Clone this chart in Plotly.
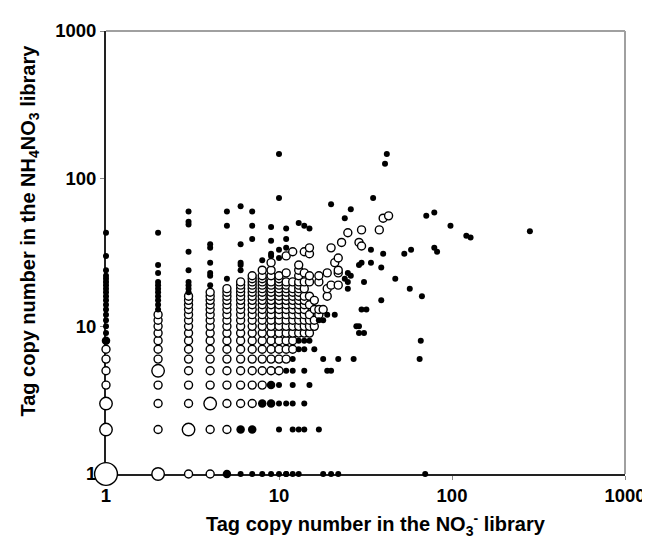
import math
import plotly.graph_objects as go

# ---- Data ----
# Open circles (not significantly different): columns of NO3 count -> NH4NO3 counts
open_cols_x = [1, 2, 3, 4, 5, 6, 7, 8, 9, 10, 11, 12, 13, 14, 15, 16, 17, 18, 19, 20, 21, 22, 23, 25, 29, 30, 38, 40, 43]
open_cols_y = [
    [1, 2, 3, 4, 5, 6, 7],
    [1, 2, 3, 4, 5, 6, 7, 8, 9, 10, 11, 12],
    [1, 2, 3, 4, 5, 6, 7, 8, 9, 10, 11, 12, 13, 14, 15, 16],
    [1, 2, 3, 4, 5, 6, 7, 8, 9, 10, 11, 12, 13, 14, 15, 16, 17],
    [2, 3, 4, 5, 6, 7, 8, 9, 10, 11, 12, 13, 14, 15, 16, 17, 18],
    [3, 4, 5, 6, 7, 8, 9, 10, 11, 12, 13, 14, 15, 16, 17, 18, 19, 20],
    [3, 4, 5, 6, 7, 8, 9, 10, 11, 12, 13, 14, 15, 16, 17, 18, 19, 20, 21, 22],
    [4, 5, 6, 7, 8, 9, 10, 11, 12, 13, 14, 15, 16, 17, 18, 19, 20, 21, 22, 24],
    [5, 6, 7, 8, 9, 10, 11, 12, 13, 14, 15, 16, 17, 18, 19, 20, 22, 24, 27],
    [5, 6, 7, 8, 9, 10, 11, 12, 13, 14, 15, 16, 17, 18, 19, 20, 21, 22],
    [6, 7, 8, 9, 10, 11, 12, 13, 14, 15, 16, 17, 18, 19, 20, 23, 30],
    [7, 8, 9, 10, 11, 12, 13, 14, 15, 16, 17, 18, 20, 32],
    [9, 10, 11, 12, 13, 14, 15, 16, 17, 18, 19, 20, 22, 24, 26],
    [9, 10, 11, 12, 13, 14, 15, 16, 18, 20, 23, 32],
    [9, 10, 11, 12, 14, 16, 20, 22, 31, 34],
    [10, 11, 13, 15],
    [12, 13, 20, 22],
    [13],
    [16, 18, 23],
    [19, 34],
    [27],
    [19, 23, 24, 29],
    [37],
    [43],
    [37],
    [35, 45],
    [45],
    [54],
    [56],
]
# points where several tags overlap (drawn larger): (x, y, tags)
open_multi = [(1, 1, 12), (1, 2, 2), (1, 3, 2), (2, 1, 2), (2, 5, 2), (3, 2, 2), (4, 3, 2)]

# Filled circles (significantly different)
filled_x = [1]*18 + [2]*11 + [3]*9 + [4]*6 + [5, 5, 5, 5] + [6]*7 + [7]*5 + \
    [8, 8, 8] + [9]*7 + [10]*8 + [11]*7 + [12]*6 + [13]*5 + [14]*6 + \
    [15, 15, 15, 16, 17, 17, 18, 18, 18, 19, 19, 20, 20, 20, 21, 22, 22, 24, 24,
     25, 25, 25, 26, 26, 27, 28, 29, 29, 29, 30, 30, 31, 31, 32, 34, 34, 35, 39, 39, 40, 41, 42, 47, 53, 57, 58, 65, 66, 67,
     70, 71, 79, 79, 82, 98, 121, 128, 282]
filled_y = [8, 9, 10, 11, 12, 13, 14, 15, 16, 17, 18, 19, 20, 21, 22, 24, 30, 43] + \
    [13, 14, 15, 16, 17, 18, 19, 20, 23, 26, 43] + \
    [17, 18, 19, 20, 24, 32, 49, 51, 60] + \
    [19, 22, 23, 27, 34, 36] + [1, 21, 48, 60] + \
    [1, 2, 24, 26, 27, 36, 65] + [1, 2, 39, 48, 60] + \
    [1, 3, 28] + [1, 3, 4, 30, 31, 38, 47] + [1, 2, 3, 4, 29, 33, 74, 147] + \
    [1, 3, 5, 34, 39, 46, 1] + [1, 2, 3, 4, 5, 6] + [1, 2, 7, 8, 50] + [2, 3, 5, 7, 8, 48] + \
    [4, 8, 46, 7, 2, 11, 6, 11, 1, 5, 12, 5, 67, 1, 12, 6, 1, 21, 54,
     18, 20, 23, 22, 62, 6, 10, 10, 9, 26, 13, 27, 20, 9, 13, 27, 33, 74, 25, 15, 31, 126, 147, 21, 31, 18, 33, 6, 8, 16,
     1, 56, 59, 34, 32, 48, 41, 40, 44]
filled_multi = [(5, 1, 2), (6, 2, 2), (7, 2, 2), (8, 3, 2), (9, 3, 2), (9, 4, 2), (1, 8, 2)]

tick_vals = [1, 10, 100, 1000]
tick_text = ["1", "10", "100", "1000"]
x_title = "Tag copy number in the NO<sub>3</sub><sup>-</sup> library"
y_title = "Tag copy number in the NH<sub>4</sub>NO<sub>3</sub> library"

# ---- Build traces ----
ox, oy = [], []
for xv, ys in zip(open_cols_x, open_cols_y):
    for yv in ys:
        ox.append(xv)
        oy.append(yv)


def size_of(n, base):
    return base + 4.0 * math.log2(n)


fig = go.Figure()
fig.add_trace(go.Scatter(
    x=ox, y=oy, mode="markers", cliponaxis=False, showlegend=False,
    marker=dict(symbol="circle", size=8, color="white", opacity=1,
                line=dict(color="black", width=1.4))))
fig.add_trace(go.Scatter(
    x=[p[0] for p in open_multi], y=[p[1] for p in open_multi], mode="markers",
    cliponaxis=False, showlegend=False,
    marker=dict(symbol="circle", size=[size_of(p[2], 8.5) for p in open_multi], color="white", opacity=1,
                line=dict(color="black", width=1.4))))
fig.add_trace(go.Scatter(
    x=filled_x, y=filled_y, mode="markers", cliponaxis=False, showlegend=False,
    marker=dict(symbol="circle", size=6, color="black", opacity=1, line=dict(width=0))))
fig.add_trace(go.Scatter(
    x=[p[0] for p in filled_multi], y=[p[1] for p in filled_multi], mode="markers",
    cliponaxis=False, showlegend=False,
    marker=dict(symbol="circle", size=[size_of(p[2], 4.5) for p in filled_multi], color="black", opacity=1,
                line=dict(width=0))))

font_family = "Liberation Sans, Arial, sans-serif"
axis_common = dict(
    type="log", range=[0, 3], tickvals=tick_vals, ticktext=["<b>%s</b>" % t for t in tick_text],
    showgrid=False, zeroline=False, showline=True, linecolor="#222", linewidth=2,
    ticks="outside", ticklen=4, tickcolor="#888", tickwidth=1,
    tickfont=dict(family=font_family, size=18.5, color="black"),
    layer="below traces",
)
fig.update_layout(
    width=650, height=546,
    margin=dict(l=98, r=27, t=12, b=80),
    paper_bgcolor="white", plot_bgcolor="white",
    font=dict(family=font_family, color="black"),
    xaxis=axis_common,
    yaxis=axis_common,
    annotations=[
        dict(text="<b>%s</b>" % x_title, xref="paper", yref="paper", x=0.52, y=-0.113,
             xanchor="center", yanchor="middle", showarrow=False,
             font=dict(family=font_family, size=20, color="black")),
        dict(text="<b>%s</b>" % y_title, xref="paper", yref="paper", x=-0.148, y=0.55,
             xanchor="center", yanchor="middle", textangle=-90, showarrow=False,
             font=dict(family=font_family, size=20, color="black")),
    ],
    shapes=[
        dict(type="line", xref="paper", yref="paper", x0=0, x1=1, y0=1, y1=1,
             line=dict(color="#a0a0a0", width=2), layer="below"),
        dict(type="line", xref="paper", yref="paper", x0=1, x1=1, y0=0, y1=1,
             line=dict(color="#a0a0a0", width=2), layer="below"),
    ],
)
fig.write_html("out.html")
